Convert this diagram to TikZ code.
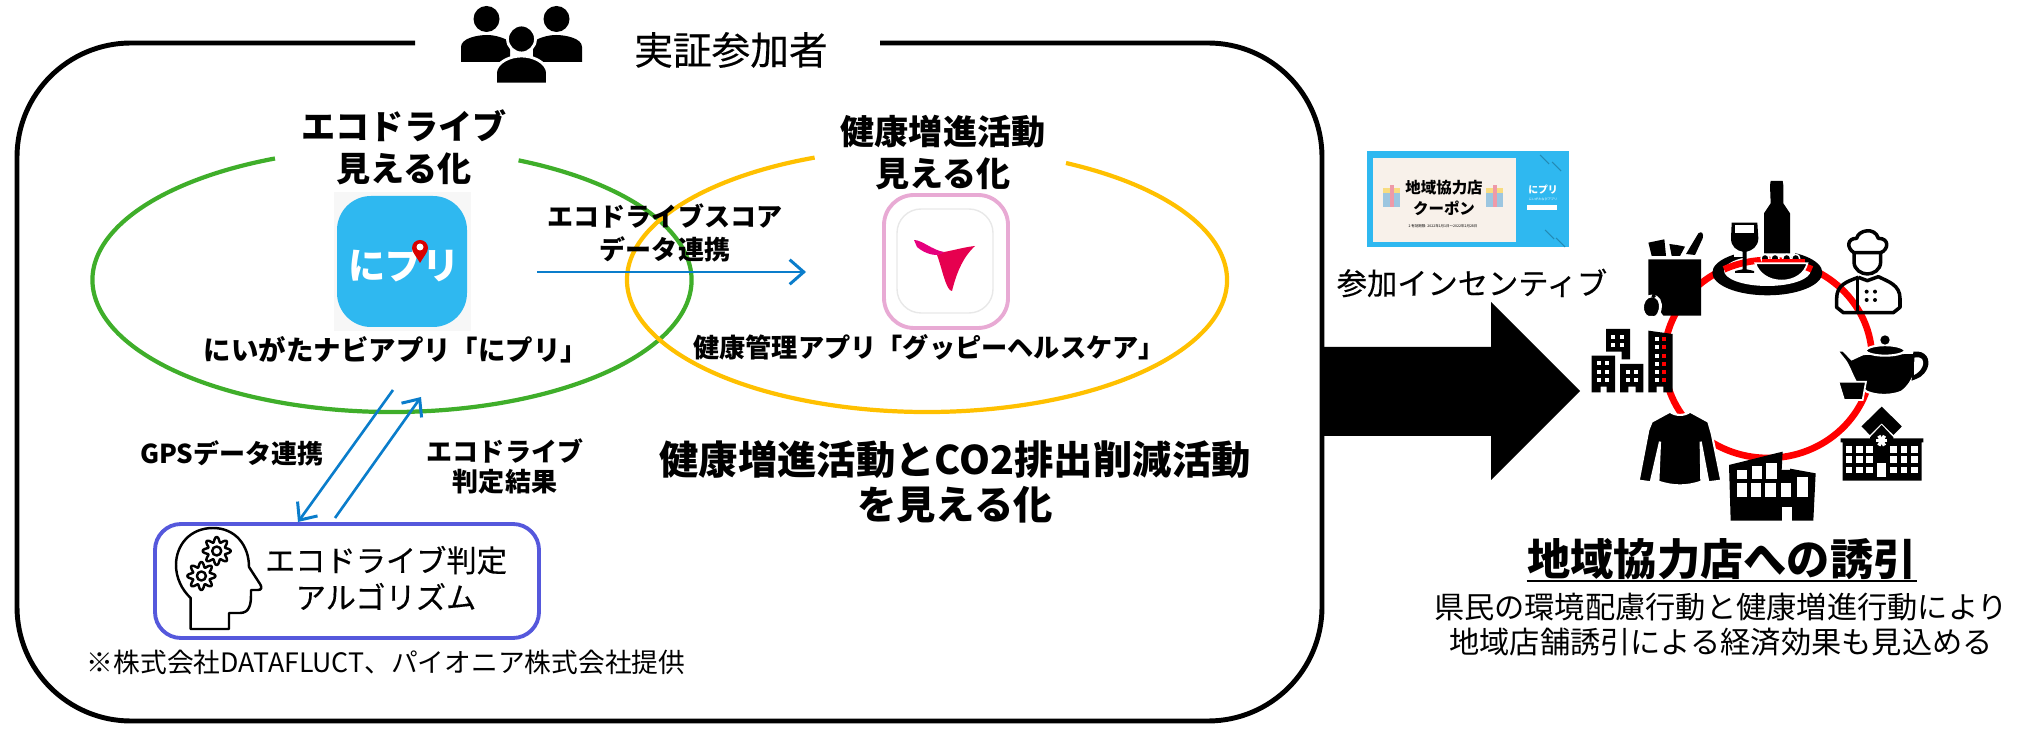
\documentclass[tikz,border=0pt]{standalone}
\usepackage{fontspec}
\setmainfont{Noto Sans CJK JP}
\newfontfamily\medfont[FakeBold=.3]{Noto Sans CJK JP}
\usepackage{tikz}
\usetikzlibrary{arrows.meta}
\definecolor{blueline}{HTML}{0A7DCB}
\definecolor{greenring}{HTML}{3FAE2A}
\definecolor{yellowring}{HTML}{FFC000}
\definecolor{algoblue}{HTML}{5558DC}
\definecolor{appblue}{HTML}{2FB8F0}
\definecolor{pinkframe}{HTML}{E8AAD4}
\definecolor{couponbg}{HTML}{F8F1EA}
\definecolor{giftblue}{HTML}{9CC6E0}
\definecolor{giftyellow}{HTML}{F8DC80}
\definecolor{giftpink}{HTML}{EE9AA8}
\definecolor{guppyred}{HTML}{E6004F}
\definecolor{guppypink}{HTML}{E6007E}
\tikzstyle{frame}=[line width=1.4pt, color=black, rounded corners=1.14cm]
\tikzstyle{ring}=[line width=1.2pt]
\tikzstyle{link}=[line width=.75pt, color=blueline, -{Straight Barb[length=4pt,width=7pt,line width=.85pt]}]
\tikzstyle{icon}=[fill=black, draw=none]
\tikzstyle{halo}=[fill=black, draw=white, line width=.8pt]
\tikzstyle{thinicon}=[draw=black, line width=.7pt, line join=round]
\tikzstyle{ringline}=[line width=1.9pt, color=red]
\tikzstyle{txt}=[inner sep=0pt, align=center, text=black]
\tikzstyle{headtxt}=[txt, font=\fontsize{9.7}{12}\selectfont\bfseries]
\tikzstyle{smalltxt}=[txt, font=\fontsize{7.4}{9.4}\selectfont\bfseries]
\tikzstyle{bigtxt}=[txt, font=\fontsize{11.2}{13}\selectfont\bfseries]
\tikzstyle{bodytxt}=[txt, font=\fontsize{8.6}{10}\selectfont]
\newcommand{\gearicon}[3]{
	\draw[thinicon, fill=white] plot[domain=0:360, samples=121] ({#1+(11.5+2.5*cos(8*\x))*cos(\x)}, {#2+(11.5+2.5*cos(8*\x))*sin(\x)}) -- cycle;
	\draw[thinicon] (#1,#2) circle (#3);
}
\begin{document}
\begin{tikzpicture}[x=.01cm, y=-.01cm]
	\useasboundingbox (0,0) rectangle (2040,734);
	\draw[frame] (880,43) -- (1322,43) -- (1322,721) -- (17,721) -- (17,43) -- (415,43);
	\fill[icon] (461,62) -- (461,47) .. controls (461,38) and (478,35) .. (487,35) .. controls (495,35) and (505,38) .. (510,42) -- (510,62) -- cycle;
	\fill[icon] (582,62) -- (582,47) .. controls (582,38) and (565,35) .. (556,35) .. controls (548,35) and (538,38) .. (533,42) -- (533,62) -- cycle;
	\foreach \x in {486.5,556.5}{
		\fill[icon] (\x,19) ellipse (13 and 13);
	}
	\draw[halo] (521.5,39) ellipse (14 and 14);
	\draw[halo] (495.5,84) -- (495.5,72) .. controls (497,62) and (510,56) .. (521.5,56) .. controls (533,56) and (546,62) .. (547.5,72) -- (547.5,84) -- cycle;
	\node[txt, font=\fontsize{11}{13}\selectfont\medfont] (members) at (731,50) {実証参加者};
	\draw[ring, color=greenring] (392,280) ++(-65:299.5 and 132) arc[start angle=-65, end angle=247, x radius=299.5, y radius=132];
	\draw[ring, color=yellowring] (927,280) ++(-62.4:300 and 132) arc[start angle=-62.4, end angle=248, x radius=300, y radius=132];
	\node[headtxt] (ecotitle) at (404,147) {エコドライブ\\見える化};
	\node[headtxt] (healthtitle) at (943,152.5) {健康増進活動\\見える化};
	\fill[color=black!3] (334,192) rectangle (471,331);
	\fill[color=appblue, rounded corners=.34cm] (337,196) rectangle (467,327);
	\node[txt, text=white, font=\fontsize{10.6}{12}\selectfont\bfseries] (nipuri) at (404,265) {にプリ};
	\fill[color=red!85!black] (420,263) .. controls (416,256) and (412,252) .. (412,248) arc[start angle=180, end angle=360, radius=8] .. controls (428,252) and (424,256) .. (420,263) -- cycle;
	\fill[color=white] (420,247) circle (3.5);
	\node[txt, font=\fontsize{7.8}{9}\selectfont\bfseries] (nipuriname) at (396,350) {にいがたナビアプリ「にプリ」};
	\draw[color=pinkframe, line width=1.1pt, rounded corners=.3cm] (884,195) rectangle (1008,328);
	\draw[color=black!9, line width=.4pt, rounded corners=.24cm] (897,209) rectangle (993,313);
	\fill[color=guppyred] (944,252) .. controls (955,250) and (965,247) .. (975,246) .. controls (962,258) and (956,275) .. (952,291) .. controls (946,291) and (942,268) .. (937,255) -- cycle;
	\fill[color=guppypink] (914,240) .. controls (922,240) and (932,250) .. (944,252) .. controls (938,258) and (925,254) .. (917,247) -- cycle;
	\node[txt, font=\fontsize{7.45}{9}\selectfont\bfseries] (guppyname) at (929,347) {健康管理アプリ「グッピーヘルスケア」};
	\node[smalltxt] (scorelink) at (665,233) {エコドライブスコア\\データ連携};
	\coordinate (scorestart) at (537,272);
	\coordinate (scoreend) at (806,272);
	\draw[link] (scorestart) -- (scoreend);
	\coordinate (gpsstart) at (393,390);
	\coordinate (gpsend) at (298,522);
	\coordinate (resultstart) at (335,518);
	\coordinate (resultend) at (421,397);
	\draw[link] (gpsstart) -- (gpsend);
	\draw[link] (resultstart) -- (resultend);
	\node[smalltxt] (gpslink) at (232,453) {GPSデータ連携};
	\node[smalltxt, font=\fontsize{7.4}{8.5}\selectfont\bfseries] (resultlink) at (505,466) {エコドライブ\\判定結果};
	\draw[color=algoblue, line width=1.1pt, rounded corners=.26cm] (155,524) rectangle (539,638);
	\draw[thinicon] (190.7,629) -- (229,629) -- (229,613) -- (240,613) .. controls (250,613) and (251,603) .. (251,595) -- (251,590) -- (258,590) .. controls (262,590) and (262,587) .. (260,584) -- (249,567) .. controls (249,545) and (235,528) .. (213,528) .. controls (190,528) and (176,545) .. (176,565) .. controls (176,578) and (182,590) .. (190.7,598) -- cycle;
	\gearicon{216.7}{551}{4.5}
	\gearicon{201.4}{576}{4.5}
	\node[txt, font=\fontsize{8.6}{10.5}\selectfont\medfont] (algoname) at (386,578) {エコドライブ判定\\アルゴリズム};
	\node[txt, font=\fontsize{7.6}{9}\selectfont] (provider) at (386,662) {※株式会社DATAFLUCT、パイオニア株式会社提供};
	\node[bigtxt] (visible) at (955,482) {健康増進活動とCO2排出削減活動\\を見える化};
	\fill[icon] (1322,347) -- (1491,347) -- (1491,302) -- (1580,391) -- (1491,480) -- (1491,436) -- (1322,436) -- cycle;
	\fill[color=appblue] (1367,151) rectangle (1569,247);
	\fill[color=couponbg] (1373,158) rectangle (1516,242);
	\foreach \x in {1383,1486}{
		\fill[color=giftblue] (\x,193) rectangle (\x+17,207);
		\fill[color=giftyellow] (\x,188) rectangle (\x+17,193);
		\fill[color=giftpink] (\x+6.5,185) rectangle (\x+10.5,207);
	}
	\foreach \x/\y in {1540/155, 1552/162, 1545/230, 1556/238}{
		\draw[color=appblue!75!black, line width=.3pt] (\x,\y) -- (\x+9,\y+9);
	}
	\node[txt, font=\fontsize{4.4}{5}\selectfont\bfseries] (coupon1) at (1444,188) {地域協力店};
	\node[txt, font=\fontsize{4.4}{5}\selectfont\bfseries] (coupon2) at (1444,208) {クーポン};
	\node[txt, font=\fontsize{1}{1}\selectfont] (coupon3) at (1443,226) {2 有効期限: 2022年1月1日〜2022年2月28日};
	\node[txt, text=white, font=\fontsize{2.8}{3}\selectfont\bfseries] (coupon4) at (1543,190) {にプリ};
	\node[txt, text=white, font=\fontsize{.9}{1}\selectfont] (coupon5) at (1543,199) {にいがたなびアプリ};
	\fill[color=white] (1527,205) rectangle (1557,210);
	\node[txt, font=\fontsize{8.6}{10}\selectfont\medfont] (incentive) at (1472,283) {参加インセンティブ};
	\draw[ringline] (1768,359) ellipse (104 and 99);
	\begin{scope}[shift={(1630,170)}, scale=.3333]
		\fill[icon] (55,268) -- (213,268) -- (213,437) -- (100,437) -- (55,375) -- cycle;
		\fill[icon] (55,218) -- (103,208) -- (108,258) -- (65,258) -- cycle;
		\fill[icon] (118,222) -- (140,225) -- (165,230) -- (150,258) -- (125,258) -- cycle;
		\fill[icon] (168,252) -- (205,190) .. controls (215,182) and (222,190) .. (218,205) -- (195,255) -- cycle;
		\draw[halo] (65,378) .. controls (85,378) and (95,395) .. (90,420) .. controls (85,440) and (75,445) .. (65,442) .. controls (50,445) and (42,435) .. (38,420) .. controls (35,395) and (48,378) .. (65,378) -- cycle;
		\fill[icon] (64,382) -- (68,372) -- (78,378) -- (72,384) -- cycle;
		\fill[icon] (412,308) ellipse (165 and 68);
		\fill[color=white] (412,302) ellipse (130 and 46);
		\fill[color=white] (312,225) rectangle (495,262);
		\draw[ringline] (282,298) arc[start angle=245, end angle=295, x radius=312, y radius=297];
		\fill[icon] (422,33) -- (458,33) -- (460,46) -- (460,100) -- (480,130) -- (480,250) -- (402,250) -- (402,130) -- (422,100) -- (420,46) -- cycle;
		\fill[icon] (305,158) -- (382,158) -- (385,205) .. controls (385,230) and (365,242) .. (350,245) -- (350,298) -- (372,303) -- (372,309) -- (315,309) -- (315,303) -- (338,298) -- (338,245) .. controls (320,242) and (303,230) .. (303,205) -- cycle;
		\fill[color=white] (315,166) rectangle (372,189);
		\foreach \x in {405,435,470,497}{
			\draw[halo, line width=.4pt] (\x,265) circle (12);
		}
		\draw[ringline, line width=1.2pt] (395,272) -- (525,272);
		\draw[halo, line width=.5pt] (376,280) -- (532,280) .. controls (525,310) and (495,332) .. (455,332) .. controls (415,332) and (385,310) .. (376,280) -- cycle;
		\draw[thinicon, line width=1pt] (672,248) .. controls (650,235) and (650,205) .. (680,205) .. controls (685,180) and (735,170) .. (745,205) .. controls (780,205) and (775,240) .. (752,248) -- cycle;
		\draw[thinicon, line width=1pt] (672,248) -- (672,275) .. controls (672,300) and (695,312) .. (712,312) .. controls (730,312) and (752,300) .. (752,275) -- (752,248);
		\draw[thinicon, line width=1pt] (685,322) .. controls (650,335) and (620,345) .. (620,385) -- (620,412) -- (640,428) -- (790,428) -- (810,412) -- (810,385) .. controls (810,345) and (775,335) .. (745,320) -- (712,332) -- (685,322);
		\draw[thinicon, line width=1pt] (682,325) -- (682,428);
		\foreach \x/\y in {710/365, 735/365, 710/390, 735/390}{
			\fill[icon] (\x,\y) circle (6);
		}
	\end{scope}
	\begin{scope}[shift={(1580,310)}, scale=.3333]
		\fill[icon] (78,57) -- (150,57) -- (150,148) -- (125,148) -- (125,125) -- (78,125) -- cycle;
		\fill[icon] (35,137) -- (105,137) -- (105,247) -- (80,247) -- (80,230) -- (62,230) -- (62,247) -- (35,247) -- cycle;
		\fill[icon] (120,162) -- (190,162) -- (190,247) -- (167,247) -- (167,230) -- (145,230) -- (145,247) -- (120,247) -- cycle;
		\fill[icon] (205,62) -- (278,72) -- (278,247) -- (250,247) -- (250,230) -- (230,230) -- (230,247) -- (205,247) -- cycle;
		\foreach \x/\y in {100/80, 125/80, 100/105, 125/105, 58/160, 82/160, 58/185, 82/185, 58/210, 82/210, 143/185, 167/185, 143/210, 167/210, 230/88, 230/112, 230/137, 230/162, 230/187, 230/211}{
			\fill[color=white] (\x-6,\y-6) rectangle (\x+6,\y+6);
		}
		\foreach \y in {88,112,137,162,187,211}{
			\fill[color=red] (253-6,\y-6) rectangle (253+6,\y+6);
		}
		\draw[halo, line width=.6pt] (270,305) .. controls (285,318) and (315,318) .. (330,305) -- (385,335) -- (395,370) -- (424,512) -- (385,517) -- (362,395) -- (364,515) .. controls (320,530) and (280,530) .. (235,515) -- (240,395) -- (212,517) -- (176,512) -- (205,360) -- (215,335) -- cycle;
		\fill[icon] (447,465) -- (608,425) -- (605,480) -- (630,480) -- (630,476) -- (707,490) -- (700,632) -- (452,632) -- cycle;
		\foreach \x/\y/\w/\h in {470/480/30/28, 515/468/30/40, 558/460/32/48, 470/520/30/40, 513/520/30/40, 555/520/32/40, 603/520/30/40, 650/502/33/58}{
			\fill[color=white] (\x,\y) rectangle (\x+\w,\y+\h);
		}
		\fill[color=white] (605,590) rectangle (635,632);
		\draw[halo, line width=.6pt] (772,122) -- (790,122) -- (815,148) -- (850,132) -- (1005,128) .. controls (1015,165) and (1005,215) .. (965,245) .. controls (935,258) and (890,258) .. (860,245) -- (830,220) .. controls (815,195) and (805,160) .. (790,145) -- cycle;
		\fill[icon] (1000,125) .. controls (1040,120) and (1052,150) .. (1042,175) .. controls (1030,200) and (1015,205) .. (995,212) -- cycle;
		\fill[color=white] (1003,143) .. controls (1025,138) and (1035,150) .. (1027,170) .. controls (1022,182) and (1012,190) .. (1002,195) -- cycle;
		\draw[halo, line width=.6pt] (855,122) .. controls (870,100) and (960,100) .. (977,122) .. controls (960,142) and (870,142) .. (855,122) -- cycle;
		\fill[icon] (915,90) circle (14);
		\draw[halo, line width=.5pt] (775,215) -- (858,215) -- (848,270) -- (792,270) -- cycle;
		\draw[color=black, line width=3.4pt] (857,362) -- (905,315) -- (953,362);
		\fill[icon] (905,345) -- (940,382) -- (940,400) -- (870,400) -- (870,382) -- cycle;
		\fill[icon] (782,385) -- (1030,385) -- (1030,397) -- (1025,397) -- (1025,512) -- (788,512) -- (788,397) -- (782,397) -- cycle;
		\foreach \x in {807,838,869,941,972,1003}{
			\foreach \y in {418,449,480}{
				\fill[color=white] (\x-10,\y-10) rectangle (\x+10,\y+10);
			}
		}
		\fill[color=white] (892,458) rectangle (918,500);
		\foreach \a in {0,60,120}{
			\draw[color=white, line width=1pt] (905,392) ++(\a:17) -- ++(\a+180:34);
		}
	\end{scope}
	\node[txt, font=\fontsize{12.3}{14}\selectfont\bfseries] (shoptitle) at (1722,559) {地域協力店への誘引};
	\draw[line width=.6pt] (shoptitle.south west |- 0,581) -- (shoptitle.south east |- 0,581);
	\node[bodytxt] (shopbody) at (1721,625) {県民の環境配慮行動と健康増進行動により\\地域店舗誘引による経済効果も見込める};
\end{tikzpicture}
\end{document}
